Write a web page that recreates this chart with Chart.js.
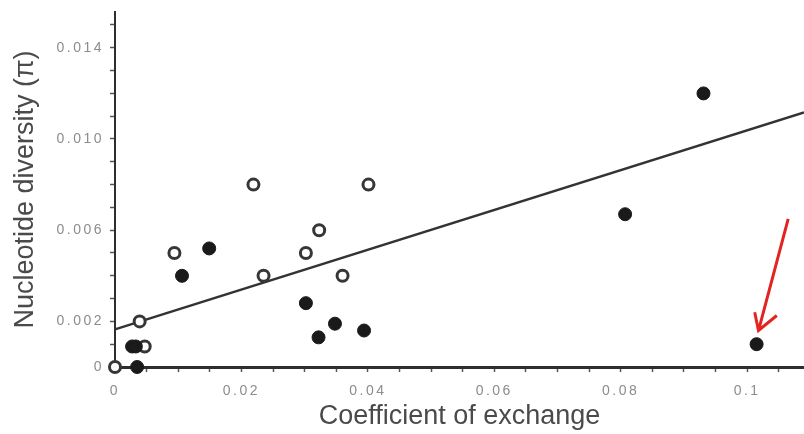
<!DOCTYPE html>
<html>
<head>
<meta charset="utf-8">
<script src="https://cdn.jsdelivr.net/npm/chart.js@4/dist/chart.umd.min.js"></script>
<style>
  html, body { margin: 0; padding: 0; background: #ffffff; }
  #wrap { width: 804px; height: 434px; }
</style>
</head>
<body>
<div id="wrap"><canvas id="c" width="804" height="434"></canvas></div>
<script>
// ---- data ----
const openX   = [0, 0.0047, 0.0039, 0.0094, 0.0219, 0.0235, 0.0302, 0.0323, 0.0360, 0.0401];
const openY   = [0, 0.0009, 0.0020, 0.0050, 0.0080, 0.0040, 0.0050, 0.0060, 0.0040, 0.0080];
const filledX = [0.0035, 0.0027, 0.0033, 0.0106, 0.0149, 0.0302, 0.0322, 0.0348, 0.0394, 0.0807, 0.0931, 0.1015];
const filledY = [0, 0.0009, 0.0009, 0.0040, 0.0052, 0.0028, 0.0013, 0.0019, 0.0016, 0.0067, 0.0120, 0.0010];
// regression line endpoints
const fitX = [0, 0.109];
const fitY = [0.00165, 0.01117];
// red annotation arrow (shaft, gap, head)
const arrowX = [0.1065, 0.1018, null, 0.1012, 0.1018, 0.1047];
const arrowY = [0.0065, 0.0016, null, 0.0024, 0.0016, 0.00226];
// axis ticks / labels
const xLabelValues = [0, 0.02, 0.04, 0.06, 0.08, 0.1];
const xLabelText   = ['0', '0.02', '0.04', '0.06', '0.08', '0.1'];
const yLabelValues = [0, 0.002, 0.006, 0.010, 0.014];
const yLabelText   = ['0', '0.002', '0.006', '0.010', '0.014'];
const xRange = [0, 0.109];
const yRange = [0, 0.01557];
const xTitle = 'Coefficient of exchange';
const yTitle = 'Nucleotide diversity (\u03c0)';

const pts = (xs, ys) => xs.map((x, i) => ({ x: x, y: ys[i] }));
const arrowPts = arrowX.map((x, i) => x === null ? { x: 0.104, y: null } : { x: x, y: arrowY[i] });
const labelFor = (vals, texts) => (v) => {
  const i = vals.findIndex(t => Math.abs(t - v) < 1e-9);
  return i >= 0 ? texts[i] : '';
};

// tick labels in the reference are widely letter-spaced
const origDrawLabels = Chart.Scale.prototype.drawLabels;
Chart.Scale.prototype.drawLabels = function (area) {
  const ctx = this.ctx;
  ctx.save();
  ctx.letterSpacing = '2.5px';
  origDrawLabels.call(this, area);
  ctx.restore();
};

const fixPad = (s) => { s.paddingTop = 0; s.paddingBottom = 0; s.paddingLeft = 0; s.paddingRight = 0; };

const tickFont = { family: "'Liberation Sans', Arial, sans-serif", size: 14 };
const titleFont = { family: "'Liberation Sans', Arial, sans-serif", size: 27 };

new Chart(document.getElementById('c'), {
  type: 'scatter',
  data: {
    datasets: [
      {
        label: 'filled',
        data: pts(filledX, filledY),
        pointRadius: 6.5,
        pointBackgroundColor: '#1a1a1a',
        pointBorderColor: '#1a1a1a',
        pointBorderWidth: 1,
        clip: false
      },
      {
        label: 'open',
        data: pts(openX, openY),
        pointRadius: 5.5,
        pointBackgroundColor: '#ffffff',
        pointBorderColor: '#363636',
        pointBorderWidth: 3,
        clip: false
      },
      {
        type: 'line',
        label: 'arrow',
        data: arrowPts,
        borderColor: '#e3241f',
        borderWidth: 3,
        pointRadius: 0,
        spanGaps: false,
        tension: 0,
        clip: false
      },
      {
        type: 'line',
        label: 'fit',
        data: pts(fitX, fitY),
        borderColor: '#333333',
        borderWidth: 2.5,
        pointRadius: 0,
        tension: 0,
        clip: false
      }
    ]
  },
  options: {
    responsive: false,
    animation: false,
    layout: { autoPadding: false, padding: { top: 12, right: 0, bottom: 0, left: 0 } },
    plugins: { legend: { display: false }, tooltip: { enabled: false } },
    scales: {
      x: {
        type: 'linear',
        min: xRange[0], max: xRange[1],
        afterFit: (s) => { s.height = 67; fixPad(s); },
        border: { display: true, color: '#2e2e2e', width: 3 },
        grid: { drawOnChartArea: false, drawTicks: true, tickLength: 5, tickColor: '#555', tickWidth: 1.5 },
        ticks: {
          stepSize: 0.005, autoSkip: false, includeBounds: false, maxRotation: 0,
          padding: 11, color: '#8c8c8c', font: tickFont,
          callback: labelFor(xLabelValues, xLabelText)
        },
        title: { display: true, text: xTitle, color: '#4a4a4a', font: titleFont, padding: { top: 0, bottom: 1 } }
      },
      y: {
        type: 'linear',
        min: yRange[0], max: yRange[1],
        afterFit: (s) => { s.width = 115; fixPad(s); },
        border: { display: true, color: '#2e2e2e', width: 2 },
        grid: { drawOnChartArea: false, drawTicks: true, tickLength: 5, tickColor: '#555', tickWidth: 1.5 },
        ticks: {
          stepSize: 0.001, autoSkip: false, includeBounds: false,
          padding: 6, color: '#8c8c8c', font: tickFont,
          callback: labelFor(yLabelValues, yLabelText)
        },
        title: { display: true, text: yTitle, color: '#4a4a4a', font: titleFont, padding: { top: 9, bottom: 0 } }
      }
    }
  }
});
</script>
</body>
</html>
